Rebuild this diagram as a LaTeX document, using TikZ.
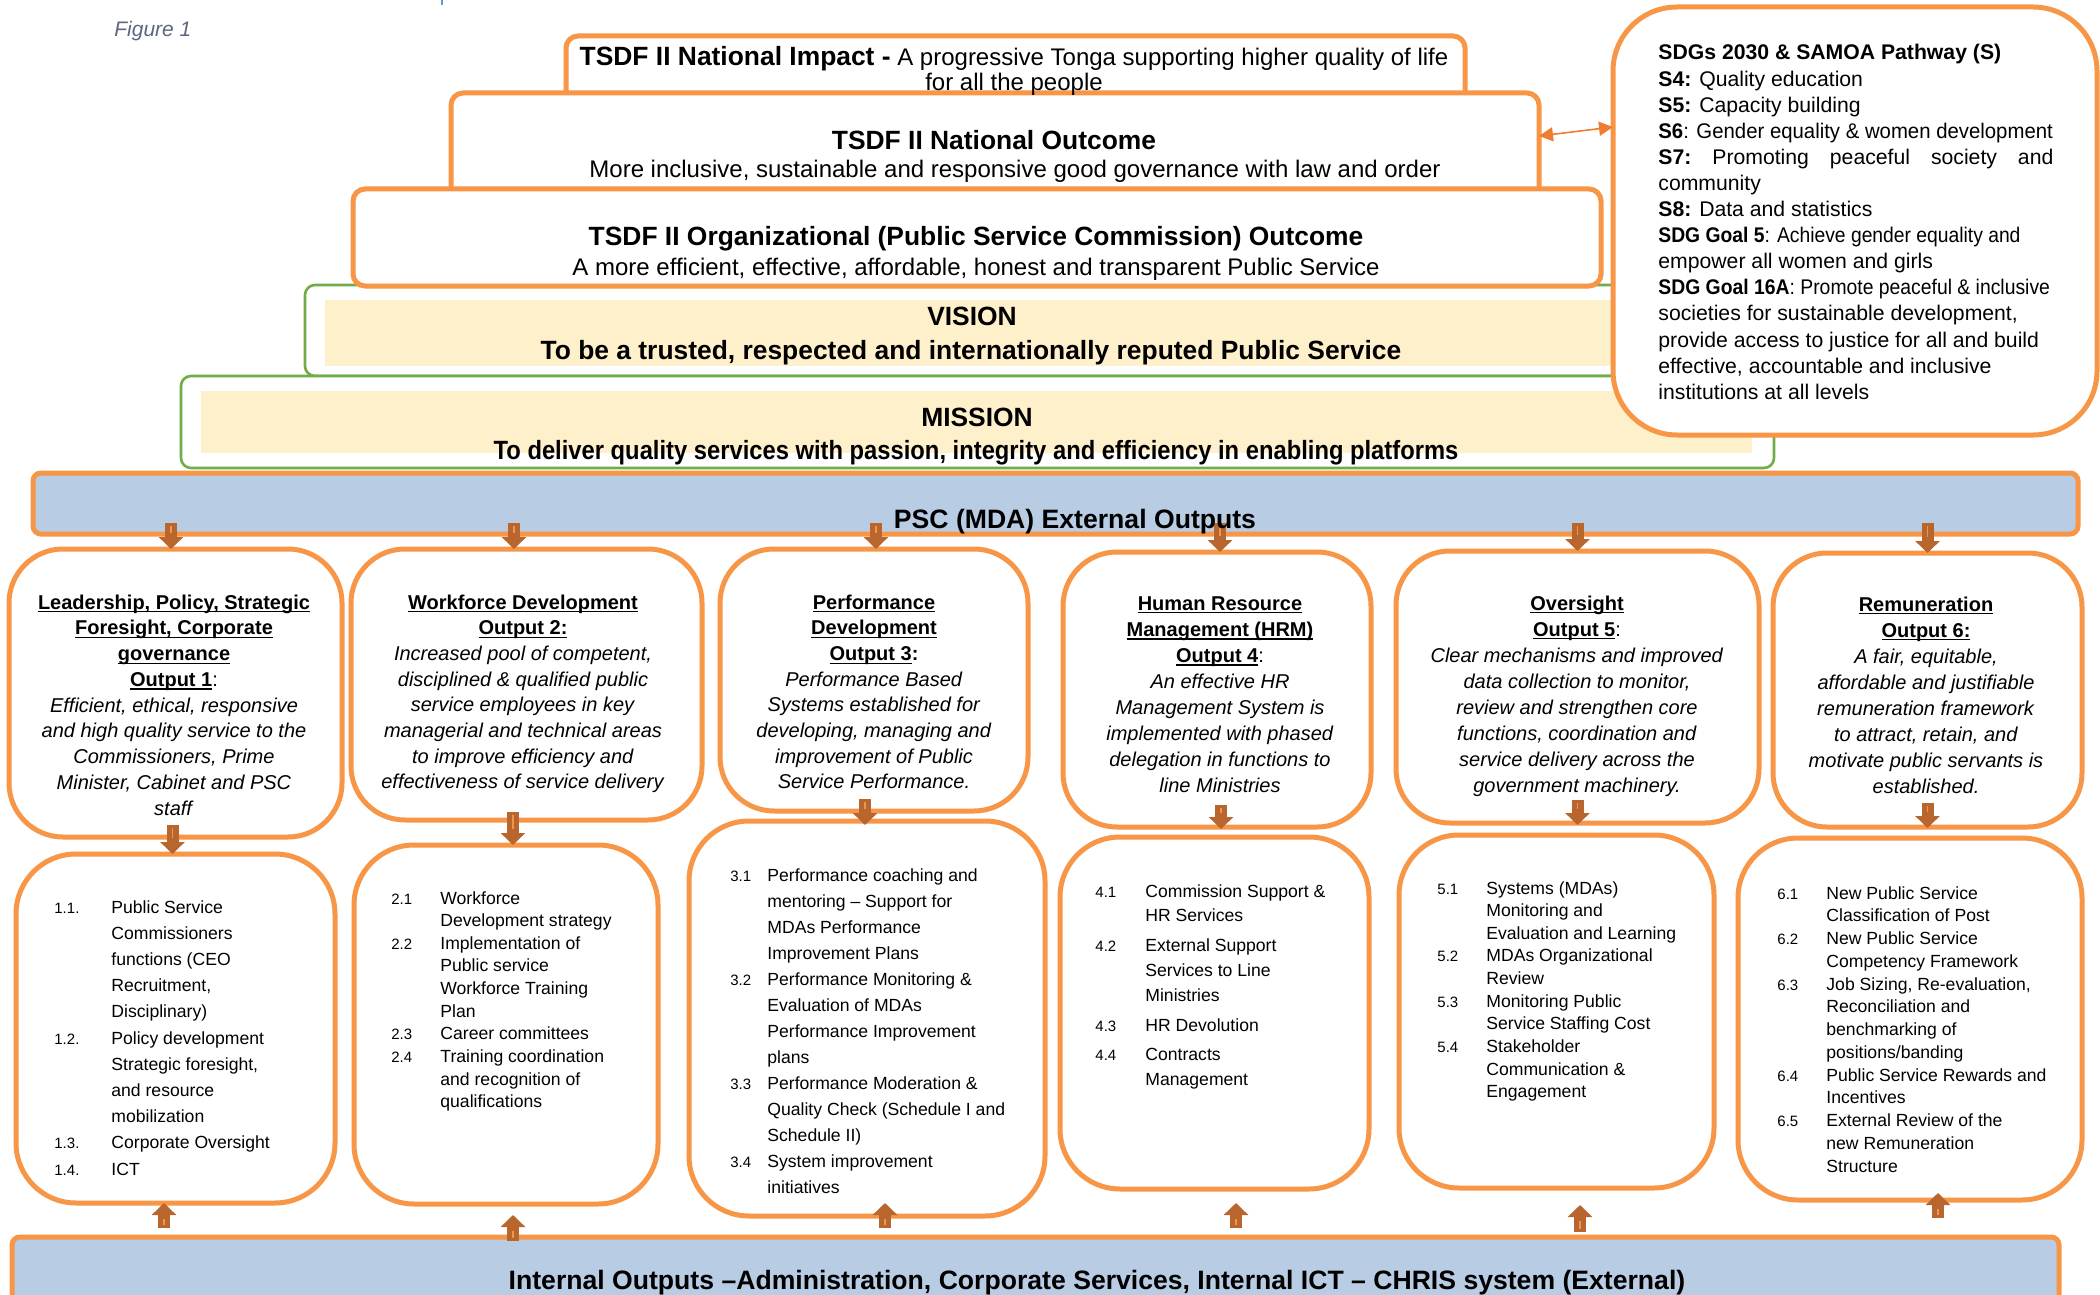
\documentclass[tikz,border=0pt]{standalone}
\usepackage{fontspec}
\usepackage{graphicx}
\setmainfont{Liberation Sans}
\usetikzlibrary{arrows.meta}
\definecolor{orng}{HTML}{F79646}
\definecolor{grn}{HTML}{70AD47}
\definecolor{cream}{HTML}{FFF0CC}
\definecolor{bandblue}{HTML}{B8CCE4}
\definecolor{arrbrown}{HTML}{B8662E}
\definecolor{arrlight}{HTML}{EE9550}
\definecolor{dblorng}{HTML}{EE7D31}
\definecolor{figgray}{HTML}{5E6780}
\definecolor{tickblue}{HTML}{5B9BD5}
\newlength\numw
\newcommand\nm[1]{\makebox[\numw][l]{\fontsize{7.5}{9}\selectfont #1}}
\newcommand\uln[1]{\sbox0{#1}\rlap{\rule[-1.7pt]{\wd0}{0.6pt}}\usebox0}
\newcommand\ubf[1]{\textbf{\uln{#1}}}
\newcommand\rf[1]{\fontsize{10}{#1}\selectfont}
\newcommand\lf[1]{\fontsize{8.8}{#1}\selectfont}
\newcommand\hd{\fontsize{13.2}{15}\selectfont\bfseries}
\newcommand\sqz[2]{\scalebox{#1}[1]{#2}}
\begin{document}
\begin{tikzpicture}[x=0.5pt,y=-0.5pt,
  ob/.style={draw=orng, line width=2.5pt, fill=white, rounded corners=27pt, inner sep=0pt, outer sep=0pt},
  tb/.style={draw=orng, line width=2.5pt, fill=white, rounded corners=6pt, inner sep=0pt, outer sep=0pt},
  gb/.style={draw=grn, line width=1.3pt, fill=white, rounded corners=5pt, inner sep=0pt, outer sep=0pt},
  cb/.style={fill=cream, draw=none, inner sep=0pt, outer sep=0pt},
  band/.style={draw=orng, line width=2.5pt, fill=bandblue, rounded corners=4pt, inner sep=0pt, outer sep=0pt},
  txt/.style={inner sep=0pt, anchor=base},
  lst/.style={inner sep=0pt, anchor=base west},
  blk/.style={line width=6pt, draw=arrbrown, -{Triangle[width=12pt,length=6pt]},
     postaction={draw=arrlight, line width=0.9pt, -, shorten >=8pt, shorten <=1.5pt}},
  dbl/.style={draw=dblorng, line width=0.8pt, {Triangle[width=7pt,length=7pt]}-{Triangle[width=7pt,length=7pt]}},
  tick/.style={draw=tickblue, line width=1pt}
]
\useasboundingbox (0,0) rectangle (2100,1295);
\fill[white] (0,0) rectangle (2100,1295);
\draw[tick] (442,0) -- (442,5);

\node[txt, anchor=base west, font=\fontsize{10.5}{12}\selectfont\itshape, text=figgray] (fig) at (114,37) {Figure 1};

% Vision / Mission
\node[gb, minimum width=697.5pt, minimum height=45.5pt] (vis) at (1002.5,330.5) {};
\node[cb, minimum width=657.5pt, minimum height=33pt] (viscr) at (982.5,333) {};
\node[gb, minimum width=796.5pt, minimum height=46pt] (mis) at (977.5,422) {};
\node[cb, minimum width=775.5pt, minimum height=31pt] (miscr) at (976.5,422) {};

% Top boxes
\node[tb, minimum width=449.5pt, minimum height=37pt] (imp) at (1015.5,73) {};
\node[tb, minimum width=544pt, minimum height=53.5pt] (out) at (995,146.5) {};
\node[tb, minimum width=624pt, minimum height=48.5pt] (org) at (977,237.5) {};
\node[tb, rounded corners=32pt, minimum width=242pt, minimum height=214pt] (sdg) at (1855,221) {};
\draw[dbl] ([yshift=5.25pt]out.east) -- ([yshift=47pt]sdg.west);

% Bands
\node[band, minimum width=1022.5pt, minimum height=30.5pt] (psc) at (1055.5,503.5) {};
\node[band, minimum width=1023.5pt, minimum height=46.5pt] (int) at (1035.5,1283.5) {};

% Row 1
\node[ob, minimum width=166.5pt, minimum height=144pt] (o1) at (175.5,693) {};
\node[ob, minimum width=175.5pt, minimum height=135.5pt] (o2) at (526.5,684.5) {};
\node[ob, minimum width=154pt, minimum height=131pt] (o3) at (874,680) {};
\node[ob, minimum width=154pt, minimum height=137.5pt] (o4) at (1217,689.5) {};
\node[ob, minimum width=181.5pt, minimum height=136pt] (o5) at (1577.5,687) {};
\node[ob, minimum width=154.5pt, minimum height=137pt] (o6) at (1927.5,690) {};

% Row 2
\node[ob, rounded corners=30pt, minimum width=159.5pt, minimum height=174.5pt] (b1) at (175.5,1028.5) {};
\node[ob, rounded corners=30pt, minimum width=152pt, minimum height=179.5pt] (b2) at (506,1024.5) {};
\node[ob, rounded corners=30pt, minimum width=178pt, minimum height=197.5pt] (b3) at (867,1018.5) {};
\node[ob, rounded corners=30pt, minimum width=154.5pt, minimum height=176pt] (b4) at (1214.5,1013) {};
\node[ob, rounded corners=30pt, minimum width=157.5pt, minimum height=176.5pt] (b5) at (1556.5,1011.5) {};
\node[ob, rounded corners=30pt, minimum width=172pt, minimum height=181pt] (b6) at (1910,1019) {};

% Arrows PSC -> row 1
\draw[blk] ([xshift=-2.25pt,yshift=5.5pt]o1.north |- psc.south) -- ([xshift=-2.25pt]o1.north);
\draw[blk] ([xshift=-6.25pt,yshift=5.5pt]o2.north |- psc.south) -- ([xshift=-6.25pt]o2.north);
\draw[blk] ([xshift=1pt,yshift=5.5pt]o3.north |- psc.south) -- ([xshift=1pt]o3.north);
\draw[blk] ([xshift=1.5pt,yshift=5.5pt]o4.north |- psc.south) -- ([xshift=1.5pt]o4.north);
\draw[blk] ([yshift=5.5pt]o5.north |- psc.south) -- (o5.north);
\draw[blk] ([yshift=5.5pt]o6.north |- psc.south) -- (o6.north);

% Arrows row 1 -> row 2
\draw[blk] ([xshift=-1.5pt,yshift=6pt]o1.south) -- ([xshift=-1.5pt]b1.north);
\draw[blk] ([xshift=3.5pt,yshift=4pt]b2.north |- o2.south) -- ([xshift=3.5pt]b2.north);
\draw[blk] ([xshift=-1pt,yshift=6pt]b3.north |- o3.south) -- ([xshift=-1pt,yshift=-2pt]b3.north);
\draw[blk] ([xshift=3.25pt,yshift=11pt]b4.north |- o4.south) -- ([xshift=3.25pt,yshift=4pt]b4.north);
\draw[blk] ([yshift=11.5pt]o5.south) -- ([yshift=5pt]o5.south |- b5.north);
\draw[blk] ([yshift=12pt]o6.south) -- ([yshift=5pt]o6.south |- b6.north);

% Arrows internal -> row 2
\draw[blk] ([xshift=-5.75pt,yshift=4.5pt]b1.south |- int.north) -- ([xshift=-5.75pt]b1.south);
\draw[blk] ([xshift=3.5pt,yshift=-2pt]b2.south |- int.north) -- ([xshift=3.5pt,yshift=-5.5pt]b2.south);
\draw[blk] ([xshift=9pt,yshift=4.5pt]b3.south |- int.north) -- ([xshift=9pt,yshift=6.5pt]b3.south);
\draw[blk] ([xshift=10.75pt,yshift=4.5pt]b4.south |- int.north) -- ([xshift=10.75pt,yshift=-7pt]b4.south);
\draw[blk] ([xshift=11.75pt,yshift=2.5pt]b5.south |- int.north) -- ([xshift=11.75pt,yshift=-8.5pt]b5.south);
\draw[blk] ([xshift=14pt,yshift=9.5pt]b6.south |- int.north) -- ([xshift=14pt,yshift=3.5pt]b6.south);

% Top texts
\node[txt, font=\fontsize{12}{12.5}\selectfont] (impt) at (1014,66) {\begin{tabular}[t]{@{}c@{}}{\hd TSDF II National Impact -} A progressive Tonga supporting higher quality of life\\ for all the people\end{tabular}};
\node[txt, font=\hd] (outh) at (994,149) {TSDF II National Outcome};
\node[txt, font=\fontsize{12}{14}\selectfont] (outs) at (1015,177) {More inclusive, sustainable and responsive good governance with law and order};
\node[txt, font=\hd] (orgh) at (976,245) {TSDF II Organizational (Public Service Commission) Outcome};
\node[txt, font=\fontsize{12}{14}\selectfont] (orgs) at (976,275) {A more efficient, effective, affordable, honest and transparent Public Service};
\node[txt, font=\hd] (vish) at (972,325) {VISION};
\node[txt, font=\hd] (viss) at (971,359) {To be a trusted, respected and internationally reputed Public Service};
\node[txt, font=\hd] (mish) at (977,426) {MISSION};
\node[txt, font=\hd] (miss) at (976,459) {\sqz{0.9}{To deliver quality services with passion, integrity and efficiency in enabling platforms}};
\node[txt, font=\fontsize{13.3}{15}\selectfont\bfseries] (psct) at (1075,528) {PSC (MDA) External Outputs};
\node[txt, font=\fontsize{13.3}{15}\selectfont\bfseries] (intt) at (1097,1289) {Internal Outputs –Administration, Corporate Services, Internal ICT – CHRIS system (External)};

% SDG text
\node[lst, font=\fontsize{10.6}{13.05}\selectfont] (sdgt) at (1658,60) {\begin{tabular}[t]{@{}l@{}}
\textbf{SDGs 2030 \& SAMOA Pathway (S)}\\
\textbf{S4:} Quality education\\
\textbf{S5:} Capacity building\\
\sqz{0.96}{\textbf{S6}: Gender equality \& women development}\\
\makebox[197.5pt][s]{\textbf{S7:}\hfill Promoting\hfill peaceful\hfill society\hfill and}\\
community\\
\textbf{S8:} Data and statistics\\
\sqz{0.91}{\textbf{SDG Goal 5}: Achieve gender equality and}\\
empower all women and girls\\
\sqz{0.913}{\textbf{SDG Goal 16A}: Promote peaceful \& inclusive}\\
societies for sustainable development,\\
provide access to justice for all and build\\
effective, accountable and inclusive\\
institutions at all levels
\end{tabular}};

% Row 1 texts
\node[txt, font=\rf{12.875pt}] (t1) at (174,609) {\begin{tabular}[t]{@{}c@{}}
\ubf{Leadership, Policy, Strategic}\\
\ubf{Foresight, Corporate}\\
\ubf{governance}\\
\ubf{Output 1}:\\
\textit{Efficient, ethical, responsive}\\
\textit{and high quality service to the}\\
\textit{Commissioners, Prime}\\
\textit{Minister, Cabinet and PSC}\\
\textit{staff}
\end{tabular}};
\node[txt, font=\rf{12.85pt}] (t2) at (523,609) {\begin{tabular}[t]{@{}c@{}}
\ubf{Workforce Development}\\
\ubf{Output 2:}\\
\textit{Increased pool of competent,}\\
\textit{disciplined \& qualified public}\\
\textit{service employees in key}\\
\textit{managerial and technical areas}\\
\textit{to improve efficiency and}\\
\textit{effectiveness of service delivery}
\end{tabular}};
\node[txt, font=\rf{12.85pt}] (t3) at (874,609) {\begin{tabular}[t]{@{}c@{}}
\ubf{Performance}\\
\ubf{Development}\\
\ubf{Output 3}\textbf{:}\\
\textit{Performance Based}\\
\textit{Systems established for}\\
\textit{developing, managing and}\\
\textit{improvement of Public}\\
\textit{Service Performance.}
\end{tabular}};
\node[txt, font=\rf{13.05pt}] (t4) at (1220,610) {\begin{tabular}[t]{@{}c@{}}
\ubf{Human Resource}\\
\ubf{Management (HRM)}\\
\ubf{Output 4}:\\
\textit{An effective HR}\\
\textit{Management System is}\\
\textit{implemented with phased}\\
\textit{delegation in functions to}\\
\textit{line Ministries}
\end{tabular}};
\node[txt, font=\rf{13pt}] (t5) at (1577,610) {\begin{tabular}[t]{@{}c@{}}
\ubf{Oversight}\\
\ubf{Output 5}:\\
\textit{Clear mechanisms and improved}\\
\textit{data collection to monitor,}\\
\textit{review and strengthen core}\\
\textit{functions, coordination and}\\
\textit{service delivery across the}\\
\textit{government machinery.}
\end{tabular}};
\node[txt, font=\rf{13pt}] (t6) at (1926,611) {\begin{tabular}[t]{@{}c@{}}
\ubf{Remuneration}\\
\ubf{Output 6:}\\
\textit{A fair, equitable,}\\
\textit{affordable and justifiable}\\
\textit{remuneration framework}\\
\textit{to attract, retain, and}\\
\textit{motivate public servants is}\\
\textit{established.}
\end{tabular}};

% Row 2 lists
\node[lst, font=\lf{13.1pt}] (l1) at (54,913) {\setlength\numw{28.5pt}\begin{tabular}[t]{@{}l@{}l@{}}
\nm{1.1.} & Public Service\\
\nm{} & Commissioners\\
\nm{} & functions (CEO\\
\nm{} & Recruitment,\\
\nm{} & Disciplinary)\\
\nm{1.2.} & Policy development\\
\nm{} & Strategic foresight,\\
\nm{} & and resource\\
\nm{} & mobilization\\
\nm{1.3.} & Corporate Oversight\\
\nm{1.4.} & ICT
\end{tabular}};
\node[lst, font=\lf{11.33pt}] (l2) at (391,904) {\setlength\numw{24.5pt}\begin{tabular}[t]{@{}l@{}l@{}}
\nm{2.1} & Workforce\\
\nm{} & Development strategy\\
\nm{2.2} & Implementation of\\
\nm{} & Public service\\
\nm{} & Workforce Training\\
\nm{} & Plan\\
\nm{2.3} & Career committees\\
\nm{2.4} & Training coordination\\
\nm{} & and recognition of\\
\nm{} & qualifications
\end{tabular}};
\node[lst, font=\lf{13.04pt}] (l3) at (730,881) {\setlength\numw{18.5pt}\begin{tabular}[t]{@{}l@{}l@{}}
\nm{3.1} & Performance coaching and\\
\nm{} & mentoring – Support for\\
\nm{} & MDAs Performance\\
\nm{} & Improvement Plans\\
\nm{3.2} & Performance Monitoring \&\\
\nm{} & Evaluation of MDAs\\
\nm{} & Performance Improvement\\
\nm{} & plans\\
\nm{3.3} & Performance Moderation \&\\
\nm{} & Quality Check (Schedule I and\\
\nm{} & Schedule II)\\
\nm{3.4} & System improvement\\
\nm{} & initiatives
\end{tabular}};
\node[lst, font=\lf{12.4pt}] (l4) at (1095,897) {\setlength\numw{25pt}\begin{tabular}[t]{@{}l@{}l@{}}
\nm{4.1} & Commission Support \&\\
\nm{} & HR Services\\[2.5pt]
\nm{4.2} & External Support\\
\nm{} & Services to Line\\
\nm{} & Ministries\\[2.5pt]
\nm{4.3} & HR Devolution\\[2.5pt]
\nm{4.4} & Contracts\\
\nm{} & Management
\end{tabular}};
\node[lst, font=\lf{11.33pt}] (l5) at (1437,894) {\setlength\numw{24.5pt}\begin{tabular}[t]{@{}l@{}l@{}}
\nm{5.1} & Systems (MDAs)\\
\nm{} & Monitoring and\\
\nm{} & Evaluation and Learning\\
\nm{5.2} & MDAs Organizational\\
\nm{} & Review\\
\nm{5.3} & Monitoring Public\\
\nm{} & Service Staffing Cost\\
\nm{5.4} & Stakeholder\\
\nm{} & Communication \&\\
\nm{} & Engagement
\end{tabular}};
\node[lst, font=\lf{11.375pt}] (l6) at (1777,899) {\setlength\numw{24.5pt}\begin{tabular}[t]{@{}l@{}l@{}}
\nm{6.1} & New Public Service\\
\nm{} & Classification of Post\\
\nm{6.2} & New Public Service\\
\nm{} & Competency Framework\\
\nm{6.3} & Job Sizing, Re-evaluation,\\
\nm{} & Reconciliation and\\
\nm{} & benchmarking of\\
\nm{} & positions/banding\\
\nm{6.4} & Public Service Rewards and\\
\nm{} & Incentives\\
\nm{6.5} & External Review of the\\
\nm{} & new Remuneration\\
\nm{} & Structure
\end{tabular}};
\end{tikzpicture}
\end{document}
